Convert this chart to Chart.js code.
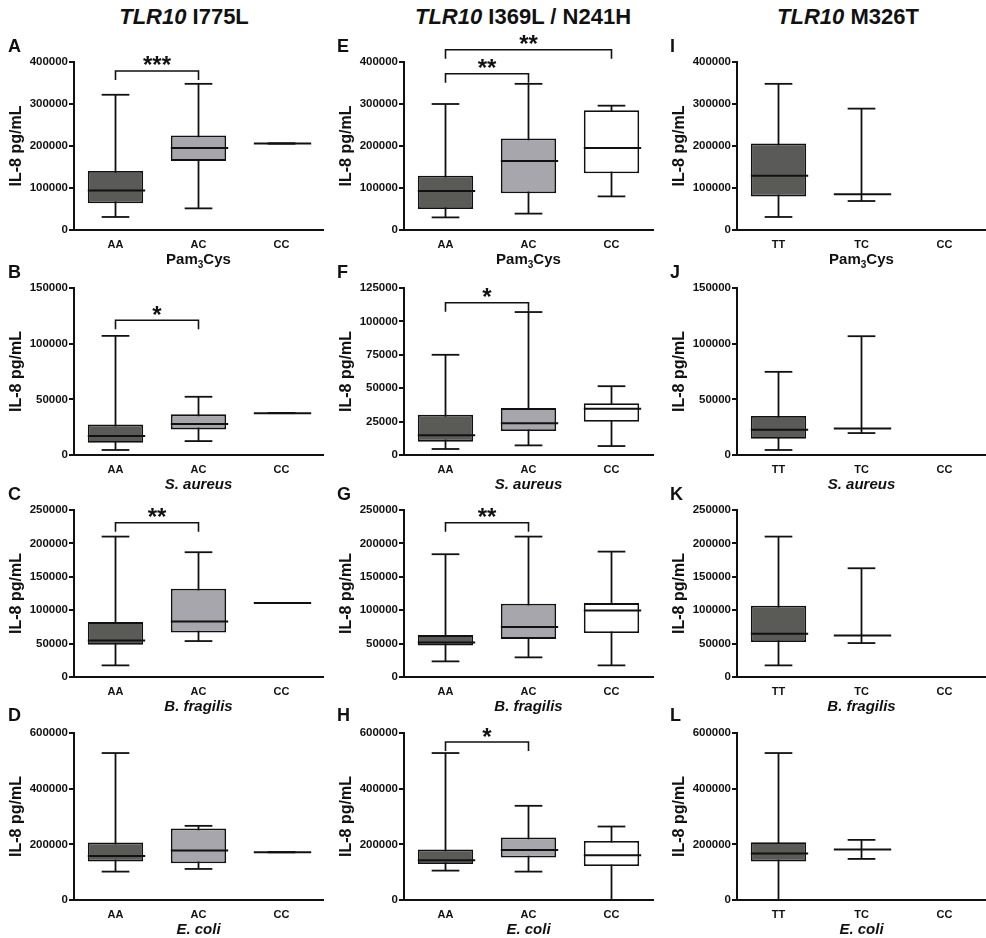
<!DOCTYPE html>
<html>
<head>
<meta charset="utf-8">
<script src="https://cdn.jsdelivr.net/npm/chart.js@4.4.1/dist/chart.umd.min.js"></script>
<style>
  html, body { margin: 0; padding: 0; background: #fff; }
  #fig { position: relative; width: 986px; height: 938px; overflow: hidden;
         font-family: 'Liberation Sans', Arial, Helvetica, sans-serif; color: #111; }
  #fig canvas { position: absolute; }
  .coltitle { position: absolute; font-size: 22px; font-weight: bold; line-height: 22px;
              white-space: nowrap; transform: translateX(-50%); }
  .letter { position: absolute; font-size: 18px; font-weight: bold; line-height: 18px; }
</style>
</head>
<body>
<div id="fig"></div>
<script>
// ---- labels ----
const geneName = 'TLR10';
const variants = ['I775L', 'I369L / N241H', 'M326T'];
const genotypesAC = ['AA', 'AC', 'CC'];
const genotypesTC = ['TT', 'TC', 'CC'];
const stimuli = ['Pam3Cys', 'S. aureus', 'B. fragilis', 'E. coli'];
const panelLetters = [['A', 'B', 'C', 'D'], ['E', 'F', 'G', 'H'], ['I', 'J', 'K', 'L']];
const yTitle = 'IL-8 pg/mL';

// ---- y axis ranges per row (max, step); F has its own ----
const yMaxRows = [400000, 150000, 250000, 600000];
const yStepRows = [100000, 50000, 50000, 200000];
const yMaxF = 125000, yStepF = 25000;

// ---- box summaries per genotype: [min, Q1, median, Q3, max] ----
// I775L
const boxA = [[31000, 63500, 94000, 140500, 322000], [51500, 164500, 195500, 225000, 348000], [206000, 206000, 206000, 206000, 206000]];
const boxB = [[4500, 11000, 17000, 27500, 107000], [12500, 23000, 27800, 36500, 52300], [37600, 37600, 37600, 37600, 37600]];
const boxC = [[17400, 48300, 54800, 82200, 210200], [53800, 66700, 83200, 132000, 186800], [110600, 110600, 110600, 110600, 110600]];
const boxD = [[102000, 138000, 158400, 206400, 528000], [111600, 132000, 177600, 256800, 266400], [171600, 171600, 171600, 171600, 171600]];
// I369L / N241H
const boxE = [[30000, 50000, 93000, 129000, 300000], [39000, 87500, 164000, 218000, 348000], [80000, 135000, 195500, 285000, 296000]];
const boxF = [[4500, 10000, 14700, 30100, 75000], [7200, 17900, 23700, 35100, 107000], [6700, 24900, 34600, 38800, 51500]];
const boxG = [[23400, 47300, 51800, 62700, 183800], [29400, 57000, 74700, 109600, 210200], [17400, 65700, 99600, 110600, 187700]];
const boxH = [[105600, 129600, 142800, 181200, 528000], [102000, 152400, 180000, 224400, 338400], [0, 122400, 160800, 212400, 264000]];
// M326T
const boxI = [[31000, 79500, 129000, 206000, 348000], [69000, 85000, 85000, 85000, 289000], null];
const boxJ = [[4500, 14600, 22700, 35000, 74700], [19700, 23900, 23900, 23900, 106700], null];
const boxK = [[17400, 52300, 64700, 106600, 210200], [50800, 62300, 62300, 62300, 162800], null];
const boxL = [[0, 138000, 166800, 207600, 528000], [147600, 181200, 181200, 181200, 216000], null];

// ---- significance brackets: [from genotype, to genotype, level (pg/mL), label] ----
const sigA = [[0, 1, 378600, '***']];
const sigB = [[0, 1, 121000, '*']];
const sigC = [[0, 1, 231000, '**']];
const sigD = [];
const sigE = [[0, 1, 372000, '**'], [0, 2, 429300, '**']];
const sigF = [[0, 1, 114000, '*']];
const sigG = [[0, 1, 231000, '**']];
const sigH = [[0, 1, 567600, '*']];
const sigI = [], sigJ = [], sigK = [], sigL = [];

// ---- styling ----
const INK = '#111111';
const FILLS = ['#5a5b57', '#a6a6ac', '#ffffff'];
const FONT = "'Liberation Sans', Arial, Helvetica, sans-serif";
Chart.defaults.font.family = FONT;
Chart.defaults.color = INK;

// ---- page geometry ----
const colLeft = [0, 330, 663], colWidth = [330, 330, 323], padRight = [7, 7, 0];
const rowPlotTop = [62, 288, 510, 733], rowPlotBottom = [230, 455, 677, 900];
const TOP_PAD = 34, X_AXIS_H = 38, Y_AXIS_W = 74;
const titleCenters = [184, 523, 848];
const letterLeft = [8, 337, 670], letterBaseline = [52, 278, 500, 721];

const boxes = [[boxA, boxB, boxC, boxD], [boxE, boxF, boxG, boxH], [boxI, boxJ, boxK, boxL]];
const sigs = [[sigA, sigB, sigC, sigD], [sigE, sigF, sigG, sigH], [sigI, sigJ, sigK, sigL]];

const fig = document.getElementById('fig');

// column headings: italic gene name + variant
variants.forEach((v, c) => {
  const d = document.createElement('div');
  d.className = 'coltitle';
  d.style.left = titleCenters[c] + 'px';
  d.style.top = '6px';
  d.innerHTML = '<i>' + geneName + '</i> ' + v;
  fig.appendChild(d);
});

// draws whiskers, medians, brackets and the stimulus label of one panel
function makePanelPlugin(stats, brackets, stimulus) {
  const line = (ctx, x1, y1, x2, y2) => { ctx.beginPath(); ctx.moveTo(x1, y1); ctx.lineTo(x2, y2); ctx.stroke(); };
  return {
    id: 'panelExtras',
    beforeDatasetsDraw(chart) {
      const { ctx } = chart, y = chart.scales.y, meta = chart.getDatasetMeta(0);
      ctx.save();
      ctx.strokeStyle = INK; ctx.lineWidth = 1.8;
      stats.forEach((s, i) => {
        if (!s) return;
        const bar = meta.data[i], x = bar.x, cap = bar.width / 4;
        const yLo = y.getPixelForValue(s[0]), yHi = y.getPixelForValue(s[4]);
        line(ctx, x, yLo, x, yHi);
        line(ctx, x - cap, yLo, x + cap, yLo);
        line(ctx, x - cap, yHi, x + cap, yHi);
      });
      ctx.restore();
    },
    afterDatasetsDraw(chart) {
      const { ctx } = chart, y = chart.scales.y, meta = chart.getDatasetMeta(0);
      ctx.save();
      ctx.strokeStyle = INK; ctx.lineWidth = 2;
      stats.forEach((s, i) => {
        if (!s) return;
        const bar = meta.data[i], half = bar.width / 2;
        const ym = y.getPixelForValue(s[2]);
        line(ctx, bar.x - half, ym, bar.x + half + 2, ym);
      });
      ctx.restore();
    },
    afterDraw(chart) {
      const { ctx, chartArea } = chart, y = chart.scales.y, meta = chart.getDatasetMeta(0);
      ctx.save();
      // significance brackets
      ctx.strokeStyle = INK; ctx.fillStyle = INK; ctx.lineWidth = 1.6;
      brackets.forEach(([a, b, level, label]) => {
        const x1 = meta.data[a].x, x2 = meta.data[b].x, yb = y.getPixelForValue(level);
        ctx.beginPath();
        ctx.moveTo(x1, yb + 9); ctx.lineTo(x1, yb); ctx.lineTo(x2, yb); ctx.lineTo(x2, yb + 9);
        ctx.stroke();
        ctx.font = 'bold 24px ' + FONT;
        ctx.textAlign = 'center'; ctx.textBaseline = 'alphabetic';
        ctx.fillText(label, (x1 + x2) / 2, yb + 2.5);
      });
      // stimulus label under the x axis (digits set as subscript)
      const italic = !/\d/.test(stimulus);
      const main = (italic ? 'italic ' : '') + 'bold 15px ' + FONT;
      const sub = (italic ? 'italic ' : '') + 'bold 10px ' + FONT;
      const parts = stimulus.split(/(\d+)/).filter(p => p.length).map(p => ({ t: p, sub: /^\d+$/.test(p) }));
      let total = 0;
      parts.forEach(p => { ctx.font = p.sub ? sub : main; p.w = ctx.measureText(p.t).width; total += p.w; });
      let x = (chartArea.left + chartArea.right) / 2 - total / 2;
      const base = chartArea.bottom + 34;
      ctx.textAlign = 'left'; ctx.textBaseline = 'alphabetic';
      parts.forEach(p => {
        ctx.font = p.sub ? sub : main;
        ctx.fillText(p.t, x, p.sub ? base + 4 : base);
        x += p.w;
      });
      ctx.restore();
    }
  };
}

for (let c = 0; c < 3; c++) {
  for (let r = 0; r < 4; r++) {
    const stats = boxes[c][r];
    const cats = c === 2 ? genotypesTC : genotypesAC;
    const isF = (c === 1 && r === 1);
    const yMax = isF ? yMaxF : yMaxRows[r];
    const yStep = isF ? yStepF : yStepRows[r];

    const plotH = rowPlotBottom[r] - rowPlotTop[r];
    const canvas = document.createElement('canvas');
    canvas.width = colWidth[c];
    canvas.height = TOP_PAD + plotH + X_AXIS_H;
    canvas.style.left = colLeft[c] + 'px';
    canvas.style.top = (rowPlotTop[r] - TOP_PAD) + 'px';
    fig.appendChild(canvas);

    const letter = document.createElement('div');
    letter.className = 'letter';
    letter.style.left = letterLeft[c] + 'px';
    letter.style.top = (letterBaseline[r] - 15) + 'px';
    letter.textContent = panelLetters[c][r];
    fig.appendChild(letter);

    new Chart(canvas, {
      type: 'bar',
      data: {
        labels: cats,
        datasets: [{
          data: stats.map(s => (s ? [s[1], s[3]] : null)),
          backgroundColor: FILLS,
          borderColor: INK,
          borderWidth: ctx => {
            const s = stats[ctx.dataIndex];
            return s && s[1] !== s[3] ? 1.8 : 0;
          },
          borderSkipped: false,
          barPercentage: 0.667,
          categoryPercentage: 1
        }]
      },
      options: {
        responsive: false,
        animation: false,
        devicePixelRatio: 1,
        layout: { padding: { top: TOP_PAD, right: padRight[c], left: 0, bottom: 0 } },
        plugins: { legend: { display: false }, tooltip: { enabled: false }, title: { display: false } },
        scales: {
          x: {
            grid: { display: false },
            border: { display: true, color: INK, width: 2 },
            ticks: { font: { size: 11, weight: 'bold' }, padding: 0, color: INK },
            afterFit: s => { s.height = X_AXIS_H; }
          },
          y: {
            min: 0,
            max: yMax,
            ticks: { stepSize: yStep, callback: v => String(v), font: { size: 11.5, weight: 'bold' }, padding: 1, color: INK },
            grid: { drawOnChartArea: false, drawTicks: true, tickLength: 5, lineWidth: 2, color: INK },
            border: { display: true, color: INK, width: 2 },
            title: { display: true, text: yTitle, font: { size: 16, weight: 'bold' }, padding: { top: 7, bottom: 0 }, color: INK },
            afterFit: s => { s.width = Y_AXIS_W; }
          }
        }
      },
      plugins: [makePanelPlugin(stats, sigs[c][r], stimuli[r])]
    });
  }
}
</script>
</body>
</html>
